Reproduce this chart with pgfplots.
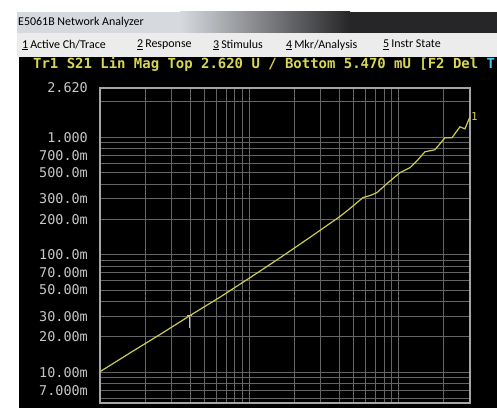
\documentclass[border=0pt]{standalone}
\usepackage{pgfplots}
\pgfplotsset{compat=1.18}
\usepackage{pgfplotstable}
\usepackage{fontspec}
\setmainfont{Carlito}
\newfontfamily\monofont{DejaVu Sans Mono}

\definecolor{trace}{RGB}{205,205,72}
\definecolor{hdr}{RGB}{215,215,85}
\definecolor{gridc}{RGB}{100,100,100}
\definecolor{frame}{RGB}{165,165,165}
\definecolor{lab}{RGB}{200,200,200}
\definecolor{barlight}{RGB}{214,218,222}
\definecolor{bardark}{RGB}{38,38,40}
\definecolor{menubg}{RGB}{236,236,236}

% S21 linear magnitude (freq index, mag)
\pgfplotstableread{
f      mag
1.0    0.0101
1.588  0.01459
2.521  0.02093
4.004  0.03033
6.357  0.04351
10.09  0.06366
16.03  0.0940
25.44  0.1403
40.4   0.2114
47.15  0.2471
57.6   0.3062
64.2   0.3184
71.5   0.3377
83.4   0.4025
101.9  0.4989
118.9  0.5499
134.5  0.6428
149.8  0.7513
174.7  0.7814
203.9  0.9876
227.0  0.9876
256.8  1.224
277.4  1.177
299.7  1.488
}\sparam

\pgfdeclareplotmark{mkT}{%
  \pgfpathmoveto{\pgfpoint{-2.5bp}{0bp}}\pgfpathlineto{\pgfpoint{2.5bp}{0bp}}%
  \pgfpathmoveto{\pgfpoint{0bp}{0bp}}\pgfpathlineto{\pgfpoint{0bp}{-12bp}}%
  \pgfusepathqstroke}

\begin{document}
\begin{tikzpicture}
\useasboundingbox (0,0) rectangle (497bp,408bp);
\begin{scope}[x=1bp,y=1bp]
  \fill[white] (0,0) rectangle (497,408);
  \fill[black] (19,0) rectangle (497,351);
  \fill[menubg] (17,351) rectangle (497,375);
  \fill[barlight] (17,375) rectangle (180,396);
  \shade[left color=barlight, right color=bardark] (180,375) rectangle (350,396);
  \fill[bardark] (350,375) rectangle (497,396);
  \node[anchor=west, inner sep=0pt, font=\fontsize{12}{12}\selectfont] at (18,386) {E5061B Network Analyzer};
  \begin{scope}[every node/.style={anchor=west, inner sep=0pt, font=\fontsize{12}{12}\selectfont}]
    \node at (22,363) {\underline{1}\,Active Ch/Trace};
    \node at (137,363) {\underline{2}\,Response};
    \node at (213,363) {\underline{3}\,Stimulus};
    \node at (286,363) {\underline{4}\,Mkr/Analysis};
    \node at (383,363) {\underline{5}\,Instr State};
  \end{scope}
  \node[anchor=west, inner sep=0pt, text=hdr, font=\monofont\bfseries\fontsize{14}{14}\selectfont]
    at (33,343.5) {Tr1 S21 Lin Mag Top 2.620 U / Bottom 5.470 mU [F2 Del\textcolor{cyan!70!white}{~T}};
\end{scope}
\begin{axis}[
    at={(100bp,5bp)}, anchor=south west,
    scale only axis, width=370bp, height=315bp,
    xmode=log, ymode=log,
    xmin=1, xmax=300, ymin=0.00547, ymax=2.62,
    axis background/.style={fill=black},
    axis line style={draw=frame, line width=1.2bp},
    grid=both,
    major grid style={draw=gridc, line width=0.8bp},
    minor grid style={draw=gridc, line width=0.8bp},
    xtick={1,10,100},
    minor xtick={2,3,4,5,6,7,8,9,20,30,40,50,60,70,80,90,200},
    xmajorticks=false, xminorticks=false,
    ytick={0.007,0.01,0.02,0.03,0.05,0.07,0.1,0.2,0.3,0.5,0.7,1,2.62},
    yticklabels={7.000m,10.00m,20.00m,30.00m,50.00m,70.00m,100.0m,200.0m,300.0m,500.0m,700.0m,1.000,2.620},
    minor ytick={0.006,0.008,0.009,0.04,0.06,0.08,0.09,0.4,0.6,0.8,0.9,2},
    major tick length=0pt, minor tick length=0pt,
    yticklabel style={font=\monofont\fontsize{13.5}{13.5}\selectfont, text=lab, anchor=east, inner sep=0pt, xshift=-12bp},
    clip=false,
]
\addplot[trace, line width=1.2bp] table[x=f, y=mag] {\sparam};
\addplot[trace, line width=1bp, only marks, mark=mkT] coordinates {(4.004,0.03033)};
\addplot[draw=none] coordinates {(299.7,1.488)}
  node[anchor=west, inner sep=1bp, text=trace, font=\monofont\fontsize{11}{11}\selectfont] {1};
\end{axis}
\end{tikzpicture}
\end{document}
